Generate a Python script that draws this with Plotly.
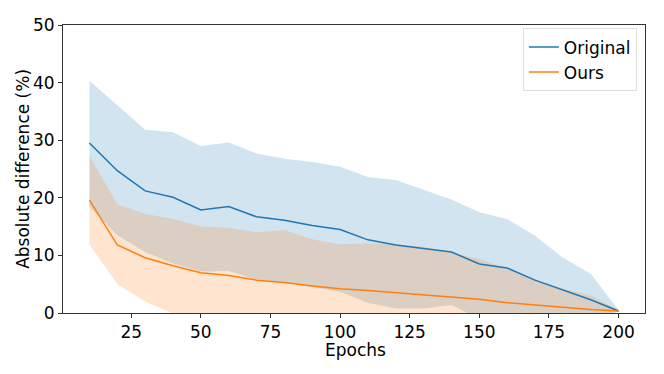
import plotly.graph_objects as go

epochs = [10, 20, 30, 40, 50, 60, 70, 80, 90, 100,
          110, 120, 130, 140, 150, 160, 170, 180, 190, 200]

orig_mean = [29.5, 24.7, 21.2, 20.1, 17.9, 18.5, 16.7, 16.1, 15.2, 14.5,
             12.7, 11.8, 11.2, 10.6, 8.5, 7.8, 5.7, 4.0, 2.3, 0.35]
orig_upper = [40.3, 36.1, 31.8, 31.4, 29.0, 29.6, 27.7, 26.8, 26.2, 25.4,
              23.6, 23.1, 21.4, 19.7, 17.5, 16.3, 13.4, 9.6, 6.8, 0.5]
orig_lower = [18.5, 13.5, 10.6, 8.6, 7.2, 7.3, 5.8, 5.4, 4.5, 3.7,
              1.8, 0.8, 0.8, 1.4, -1.0, -1.5, -1.5, -1.2, -0.8, 0.2]

ours_mean = [19.6, 11.8, 9.6, 8.2, 7.0, 6.5, 5.7, 5.3, 4.7, 4.2,
             3.9, 3.5, 3.2, 2.7, 2.4, 1.8, 1.4, 0.9, 0.6, 0.35]
ours_upper = [27.3, 18.9, 17.2, 16.3, 15.0, 14.8, 14.0, 14.4, 12.8, 11.9,
              12.1, 11.9, 11.5, 10.4, 9.4, 7.6, 5.7, 4.2, 3.1, 0.5]
ours_lower = [11.9, 5.0, 2.0, -0.1, -1.5, -2.0, -2.5, -2.5, -2.5, -2.5,
              -2.5, -2.5, -2.5, -2.5, -2.0, -1.5, -1.2, -0.8, -0.5, 0.2]

BLUE = "#1f77b4"
ORANGE = "#ff7f0e"

fig = go.Figure()

# shaded bands first, mean lines on top
for lo, hi, fill in [
    (orig_lower, orig_upper, "rgba(31,119,180,0.2)"),
    (ours_lower, ours_upper, "rgba(255,127,14,0.2)"),
]:
    fig.add_trace(go.Scatter(x=epochs, y=lo, mode="lines", line=dict(width=0),
                             showlegend=False, hoverinfo="skip"))
    fig.add_trace(go.Scatter(x=epochs, y=hi, mode="lines", line=dict(width=0),
                             fill="tonexty", fillcolor=fill,
                             showlegend=False, hoverinfo="skip"))

fig.add_trace(go.Scatter(x=epochs, y=orig_mean, mode="lines", name="Original",
                         line=dict(color=BLUE, width=1.5)))
fig.add_trace(go.Scatter(x=epochs, y=ours_mean, mode="lines", name="Ours",
                         line=dict(color=ORANGE, width=1.5)))

axis_style = dict(
    showline=True, mirror=True, linecolor="#333", linewidth=1,
    ticks="outside", ticklen=4, tickcolor="#333", showgrid=False,
    zeroline=False, automargin=False, tickfont=dict(size=17, color="black"),
)

# figure sits 8px in from the page corner (body margin), so it is a bit smaller
fig.update_layout(
    width=656, height=366,
    margin=dict(l=55, r=19, t=17, b=61),
    plot_bgcolor="white", paper_bgcolor="white",
    font=dict(family="DejaVu Sans", size=17, color="black"),
    xaxis=dict(range=[0.5, 209.5], tickvals=[25, 50, 75, 100, 125, 150, 175, 200],
               **axis_style),
    yaxis=dict(range=[0, 50], tickvals=[0, 10, 20, 30, 40, 50], **axis_style),
    legend=dict(x=0.986, y=0.988, xanchor="right", yanchor="top",
                traceorder="normal",
                bgcolor="rgba(255,255,255,0.8)", bordercolor="#ddd", borderwidth=1,
                font=dict(size=17)),
    # axis titles placed as annotations for exact positioning
    annotations=[
        dict(text="Epochs", xref="paper", yref="paper", x=0.503, y=-0.128,
             xanchor="center", yanchor="middle", showarrow=False, borderpad=0,
             font=dict(size=17)),
        dict(text="Absolute difference (%)", xref="paper", yref="paper",
             x=-0.069, y=0.5, xanchor="center", yanchor="middle", borderpad=0,
             textangle=-90, showarrow=False, font=dict(size=17)),
    ],
)

fig.write_html("out.html")
